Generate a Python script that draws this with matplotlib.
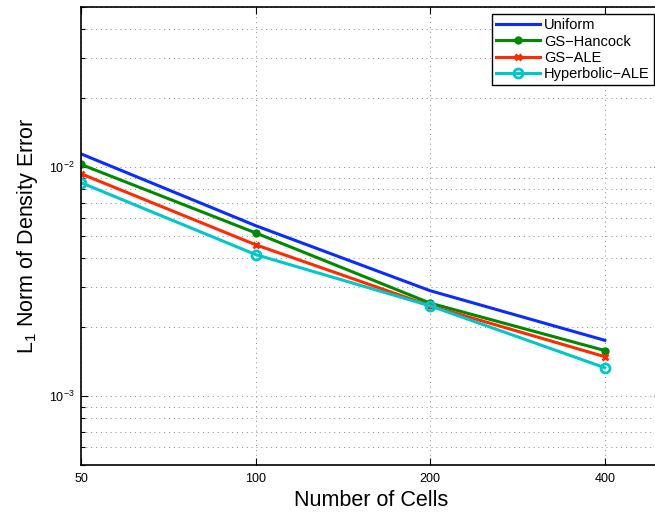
import matplotlib
matplotlib.use("Agg")
import matplotlib.pyplot as plt
from matplotlib.ticker import LogLocator, NullLocator, FixedLocator, FixedFormatter

plt.rcParams['font.family'] = ['Liberation Sans', 'DejaVu Sans']
plt.rcParams['mathtext.fontset'] = 'custom'
plt.rcParams['mathtext.rm'] = 'Liberation Sans'
plt.rcParams['mathtext.it'] = 'Liberation Sans:italic'

cells = [50, 100, 200, 400]
x_ticks = [50, 100, 200, 400]
x_labels = ["50", "100", "200", "400"]

uniform = [1.142e-2, 5.55e-3, 2.885e-3, 1.752e-3]
gs_hancock = [1.027e-2, 5.16e-3, 2.546e-3, 1.581e-3]
gs_ale = [9.35e-3, 4.58e-3, 2.48e-3, 1.486e-3]
hyperbolic_ale = [8.55e-3, 4.15e-3, 2.477e-3, 1.33e-3]

fig = plt.figure(figsize=(6.55, 5.14), dpi=100)
ax = fig.add_axes([0.1237, 0.0953, 0.8855, 0.891])

ax.plot(cells, uniform, color="#0a2cff", lw=2.2, label="Uniform")
ax.plot(cells, gs_hancock, color="#008a00", lw=2.2, marker="o", ms=5,
        label="GS\u2212Hancock")
ax.plot(cells, gs_ale, color="#ff2a00", lw=2.2, marker="x", ms=5, mew=2,
        label="GS\u2212ALE")
ax.plot(cells, hyperbolic_ale, color="#00c8c8", lw=2.2, marker="o", ms=6.5,
        mfc="none", mew=2, label="Hyperbolic\u2212ALE")

ax.set_xscale("log")
ax.set_yscale("log")
ax.set_xlim(50, 500)
ax.set_ylim(5e-4, 5e-2)

ax.xaxis.set_major_locator(FixedLocator(x_ticks))
ax.xaxis.set_major_formatter(FixedFormatter(x_labels))
ax.xaxis.set_minor_locator(NullLocator())
ax.yaxis.set_major_locator(LogLocator(base=10))
ax.yaxis.set_minor_locator(LogLocator(base=10, subs=range(2, 10)))

ax.tick_params(which="both", direction="in", top=True, right=True,
               labelsize=9, width=0.8)
ax.tick_params(which="major", length=5)
ax.tick_params(which="minor", length=3)
ax.tick_params(axis="x", pad=6)
ax.tick_params(axis="y", pad=5)

grid_style = dict(color="#888888", linestyle=(0, (1, 4)), linewidth=0.7)
ax.grid(True, which="major", **grid_style)
ax.grid(True, which="minor", axis="y", **grid_style)

for s in ax.spines.values():
    s.set_linewidth(1.2)

ax.set_xlabel("Number of Cells", fontsize=15.5, labelpad=3)
ax.set_ylabel(r"L$_1$ Norm of Density Error", fontsize=15.5, labelpad=6)

leg = fig.legend(loc="upper right", bbox_to_anchor=(654 / 655, 1 - 14 / 514),
                 fontsize=10.5, frameon=True, fancybox=False, framealpha=1,
                 edgecolor="black", handlelength=3, handletextpad=0.3,
                 labelspacing=0.15, borderpad=0.3, borderaxespad=0)
leg.get_frame().set_linewidth(1.0)

fig.savefig("out.png", dpi=100)
